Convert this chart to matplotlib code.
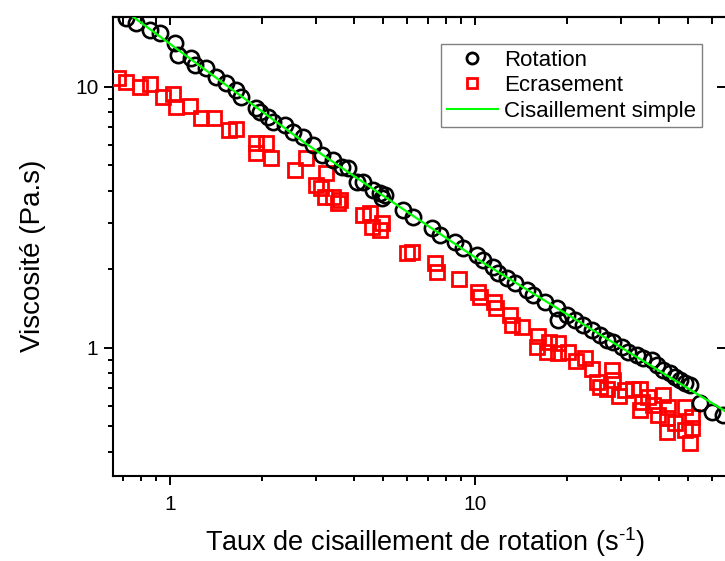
import matplotlib
matplotlib.use('Agg')
import matplotlib.pyplot as plt
from matplotlib.ticker import LogLocator, NullFormatter, FixedLocator, FixedFormatter
from matplotlib.lines import Line2D

# police type Arial
plt.rcParams['font.family'] = ['Liberation Sans', 'DejaVu Sans']
plt.rcParams['mathtext.fontset'] = 'custom'
plt.rcParams['mathtext.rm'] = 'Liberation Sans'
plt.rcParams['mathtext.default'] = 'regular'

# Rotation (cercles noirs)
rot_x = [0.717, 0.774, 0.860, 0.927, 1.038, 1.062, 1.172, 1.208, 1.312, 1.415,
         1.526, 1.646, 1.709, 1.914, 1.973, 2.096, 2.176, 2.383, 2.532, 2.730,
         2.944, 3.151, 3.422, 3.664, 3.833, 4.104, 4.294, 4.630, 4.882, 5.071,
         4.958, 5.806, 6.262, 7.228, 7.677, 8.600, 9.134, 10.15, 10.62, 11.46,
         11.90, 12.73, 13.53, 14.81, 15.50, 16.96, 18.57, 18.71, 20.03, 21.28,
         22.61, 24.19, 25.70, 27.09, 28.35, 30.34, 31.74, 33.97, 35.55, 38.05,
         39.51, 41.34, 43.59, 45.27, 47.00, 48.81, 50.69, 54.68, 59.84, 65.04]
rot_y = [18.38, 17.59, 16.54, 16.10, 14.75, 13.27, 12.91, 12.14, 11.83, 10.93,
         10.36, 9.74, 9.16, 8.31, 8.02, 7.67, 7.34, 7.15, 6.72, 6.43,
         5.99, 5.49, 5.25, 4.94, 4.89, 4.33, 4.33, 4.03, 3.93, 3.86,
         3.76, 3.38, 3.18, 2.88, 2.71, 2.55, 2.42, 2.27, 2.17, 2.04,
         1.94, 1.85, 1.77, 1.67, 1.60, 1.50, 1.42, 1.28, 1.34, 1.28,
         1.22, 1.17, 1.12, 1.07, 1.05, 1.01, 0.965, 0.940, 0.915, 0.900,
         0.861, 0.824, 0.802, 0.774, 0.754, 0.734, 0.721, 0.616, 0.569, 0.554]

# Ecrasement (carres rouges)
ecr_x = [0.675, 0.717, 0.797, 0.860, 0.948, 1.023, 1.046, 1.163, 1.264, 1.394,
         1.561, 1.646, 1.914, 2.064, 1.914, 2.144, 2.570, 2.792, 3.247, 3.011,
         3.127, 3.223, 3.422, 3.609, 3.555, 4.294, 4.526, 4.595, 4.958, 4.882,
         5.984, 6.215, 7.394, 7.507, 8.862, 10.23, 10.38, 11.54, 11.72, 13.02,
         13.22, 14.26, 16.09, 15.97, 17.48, 17.22, 18.71, 18.71, 20.18, 21.44,
         22.95, 24.19, 25.12, 25.70, 28.13, 28.35, 27.09, 29.66, 31.03, 32.96,
         34.75, 34.75, 35.28, 36.92, 38.34, 41.34, 39.81, 42.61, 42.94, 45.27,
         48.81, 48.81, 51.47, 51.47, 42.61, 50.69]
ecr_y = [10.83, 10.45, 10.00, 10.27, 9.16, 9.40, 8.38, 8.46, 7.61, 7.61,
         6.84, 6.90, 6.10, 6.10, 5.59, 5.35, 4.81, 5.35, 4.68, 4.21,
         4.10, 3.79, 3.79, 3.69, 3.59, 3.23, 3.29, 2.91, 3.01, 2.83,
         2.31, 2.33, 2.12, 1.96, 1.84, 1.64, 1.57, 1.50, 1.42, 1.34,
         1.22, 1.20, 1.11, 1.01, 1.05, 0.965, 1.045, 0.957, 0.965, 0.892,
         0.915, 0.831, 0.741, 0.709, 0.824, 0.754, 0.696, 0.655, 0.690, 0.696,
         0.696, 0.579, 0.621, 0.649, 0.605, 0.661, 0.554, 0.539, 0.594, 0.516,
         0.594, 0.485, 0.544, 0.494, 0.477, 0.433]

# Cisaillement simple (courbe verte)
cis_x = [0.686, 0.756, 1.415, 2.792, 5.677, 10.62, 25.70, 65.04, 71.2]
cis_y = [20.17, 18.54, 10.83, 6.05, 3.46, 2.12, 1.124, 0.579, 0.542]

fig = plt.figure(figsize=(7.25, 5.61), dpi=100)
ax = fig.add_axes([0.1559, 0.1515, 0.8469, 0.8182])
ax.set_xscale('log')
ax.set_yscale('log')

ax.plot(ecr_x, ecr_y, 's', mfc='none', mec='#ff0000', ms=10, mew=2.0, zorder=3)
ax.plot(rot_x, rot_y, 'o', mfc='none', mec='black', ms=11, mew=1.9, zorder=4)
ax.plot(cis_x, cis_y, '-', color='#00ff00', lw=1.6, zorder=5)

ax.set_xlim(0.65, 67)
ax.set_ylim(0.323, 18.5)

# graduations
ax.xaxis.set_major_locator(FixedLocator([1, 10]))
ax.xaxis.set_major_formatter(FixedFormatter(['1', '10']))
ax.yaxis.set_major_locator(FixedLocator([1, 10]))
ax.yaxis.set_major_formatter(FixedFormatter(['1', '10']))
for a in (ax.xaxis, ax.yaxis):
    a.set_minor_locator(LogLocator(base=10, subs=range(2, 10), numticks=20))
    a.set_minor_formatter(NullFormatter())
ax.tick_params(which='major', direction='out', length=6.5, width=1.4, labelsize=15, pad=4)
ax.tick_params(axis='x', which='major', pad=7)
ax.tick_params(which='minor', direction='out', length=3.5, width=1.4)
for s in ax.spines.values():
    s.set_linewidth(1.5)

# graduations internes haut / droite
sx = ax.secondary_xaxis('top')
sy = ax.secondary_yaxis('right')
for sa, axis in ((sx, sx.xaxis), (sy, sy.yaxis)):
    axis.set_major_locator(FixedLocator([1, 10]))
    axis.set_major_formatter(NullFormatter())
    axis.set_minor_locator(LogLocator(base=10, subs=range(2, 10), numticks=20))
    axis.set_minor_formatter(NullFormatter())
    sa.tick_params(which='major', direction='in', length=6, width=1.4)
    sa.tick_params(which='minor', direction='in', length=5, width=1.4)
    for s in sa.spines.values():
        s.set_linewidth(1.5)
sy.tick_params(which='minor', length=1.5)
sy.tick_params(which='major', length=7)

ax.set_xlabel(r'Taux de cisaillement de rotation (s$^{\text{-}1}$)', fontsize=19.5)
ax.set_ylabel('Viscosité (Pa.s)', fontsize=20)
ax.xaxis.set_label_coords(0.509, -0.145)
ax.xaxis.label.set_verticalalignment('center')
ax.yaxis.set_label_coords(-0.13, 0.48)
ax.yaxis.label.set_verticalalignment('center')

handles = [Line2D([], [], ls='none', marker='o', mfc='none', mec='black', ms=8, mew=2),
           Line2D([], [], ls='none', marker='s', mfc='none', mec='#ff0000', ms=7.5, mew=2),
           Line2D([], [], color='#00ff00', lw=1.5)]
leg = ax.legend(handles, ['Rotation', 'Ecrasement', 'Cisaillement simple'],
                loc='upper right', bbox_to_anchor=(0.959, 0.941), fontsize=16,
                frameon=True, fancybox=False, framealpha=1, edgecolor='#808080',
                borderpad=0.25, labelspacing=0.2, handlelength=2.3,
                handletextpad=0.3, borderaxespad=0)
leg.get_frame().set_linewidth(1.0)

plt.savefig('out.png', dpi=100)
